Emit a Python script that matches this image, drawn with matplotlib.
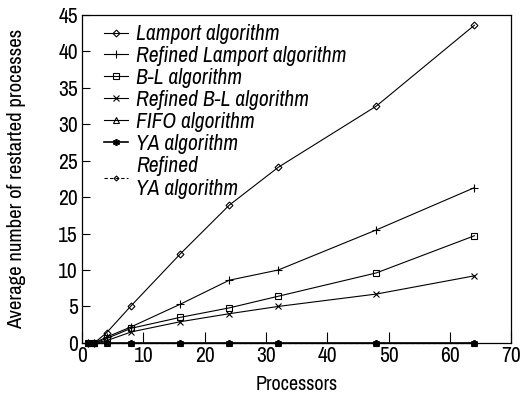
import matplotlib
matplotlib.use("Agg")
import matplotlib.pyplot as plt
from matplotlib import font_manager

# Prefer a narrow sans face if one is installed
narrow = sorted({f.name for f in font_manager.fontManager.ttflist
                 if 'Narrow' in f.name or 'Condensed' in f.name})
plt.rcParams['font.family'] = narrow[:1] + ['Liberation Sans', 'DejaVu Sans']

# Number of processors used in each run
processors = [1, 2, 4, 8, 16, 24, 32, 48, 64]

# Average number of restarted processes per algorithm
lamport = [0, 0, 1.4, 5.1, 12.2, 18.9, 24.1, 32.5, 43.6]
refined_lamport = [0, 0, 0.8, 2.2, 5.3, 8.6, 10.0, 15.5, 21.3]
bl = [0, 0, 0.6, 2.0, 3.5, 4.8, 6.4, 9.6, 14.7]
refined_bl = [0, 0, 0.3, 1.5, 2.9, 4.0, 5.0, 6.7, 9.2]
fifo = [0, 0, 0, 0, 0, 0, 0, 0, 0]
ya = [0, 0, 0, 0, 0, 0, 0, 0, 0]
refined_ya = [0, 0, 0, 0, 0, 0, 0, 0, 0]

labels = ["Lamport algorithm", "Refined Lamport algorithm", "B-L algorithm",
          "Refined B-L algorithm", "FIFO algorithm", "YA algorithm",
          "Refined\nYA algorithm"]

fig = plt.figure(figsize=(5.2, 3.95), dpi=100)
ax = fig.add_axes([0.158, 0.132, 0.825, 0.830])

kw = dict(color='black', lw=0.8, clip_on=False, markerfacecolor='none',
          markeredgewidth=0.8)
ax.plot(processors, lamport, marker='D', ms=3.5, label=labels[0], **kw)
ax.plot(processors, refined_lamport, marker='+', ms=6, label=labels[1], **kw)
ax.plot(processors, bl, marker='s', ms=5, label=labels[2], **kw)
ax.plot(processors, refined_bl, marker='x', ms=5, label=labels[3], **kw)
ax.plot(processors, fifo, marker='^', ms=4, label=labels[4], **kw)
ax.plot(processors, ya, marker=(6, 2, 0), ms=5, label=labels[5],
        color='black', lw=1.2, clip_on=False, markeredgewidth=1.2)
ax.plot(processors, refined_ya, marker='D', ms=2.5, ls=(0, (3, 2)),
        label=labels[6], **kw)

ax.set_xlim(0, 70)
ax.set_ylim(0, 45)
ax.set_xticks(range(0, 71, 10))
ax.set_yticks(range(0, 46, 5))
ax.tick_params(direction='in', labelsize=15.5, width=0.8)
ax.tick_params(axis='x', length=8, pad=2)
ax.tick_params(axis='y', length=6, pad=3)
for s in ax.spines.values():
    s.set_linewidth(0.9)

ax.set_xlabel("Processors", fontsize=14.5, labelpad=7)
ax.set_ylabel("Average number of restarted processes", fontsize=15, labelpad=23)

leg = ax.legend(loc='upper left', bbox_to_anchor=(0.018, 1.015), frameon=False,
                handlelength=1.1, handletextpad=0.4, labelspacing=0.09,
                borderaxespad=0.25, prop={'size': 15.5, 'style': 'italic'})

fig.savefig("out.png", dpi=100)
